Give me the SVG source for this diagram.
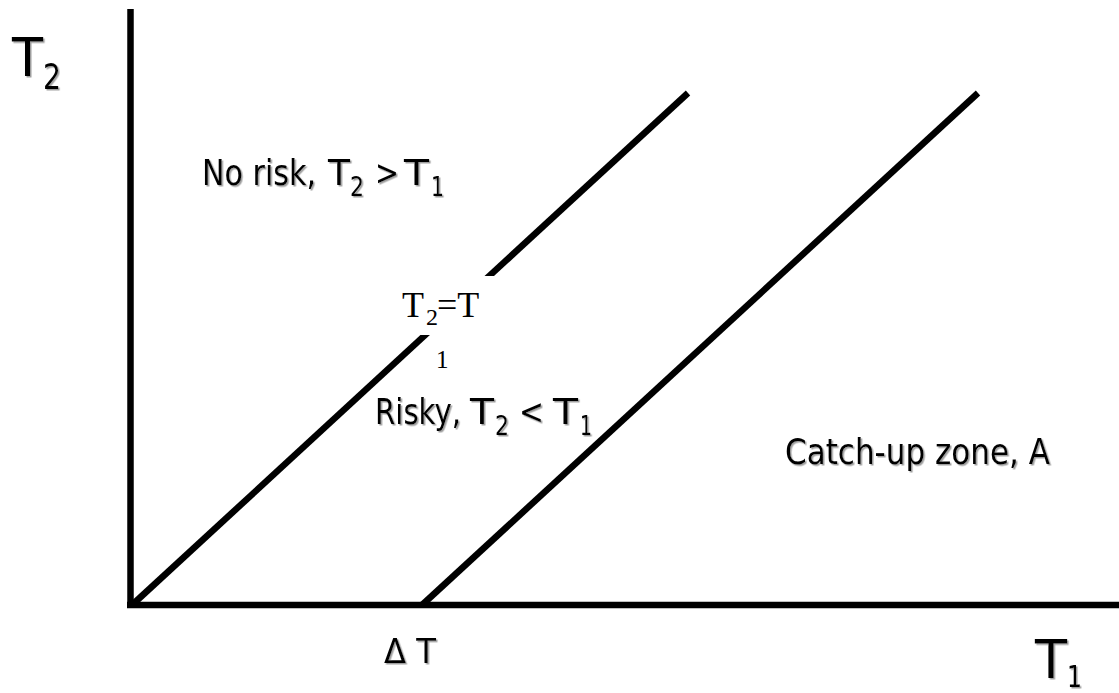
<svg xmlns="http://www.w3.org/2000/svg" width="1119" height="693" viewBox="0 0 1119 693">
<defs>
<filter id="sh" x="-10%" y="-10%" width="130%" height="140%">
<feDropShadow dx="1.5" dy="1.5" stdDeviation="0.6" flood-color="#888" flood-opacity="0.8"/>
</filter>
</defs>
<style>
.ln{stroke:#000;stroke-width:6.5;fill:none}
.lbl{font-family:"DejaVu Sans","Liberation Sans",sans-serif;fill:#000;filter:url(#sh)}
.tm{font-family:"Liberation Serif","DejaVu Serif",serif;fill:#000}
</style>
<rect width="1119" height="693" fill="#fff"/>
<g id="connectors">
<line class="ln" x1="130.5" y1="9" x2="130.5" y2="608"/>
<line class="ln" x1="127" y1="605" x2="1119" y2="605"/>
<line class="ln" x1="132" y1="605" x2="688" y2="93"/>
<line class="ln" x1="422" y1="605" x2="978" y2="93"/>
</g>
<g id="axis-t2">
<text class="lbl" x="12" y="76" font-size="53" textLength="31" lengthAdjust="spacingAndGlyphs">T</text>
<text class="lbl" x="43" y="89" font-size="35" textLength="18" lengthAdjust="spacingAndGlyphs">2</text>
</g>
<g id="axis-t1">
<text class="lbl" x="1035" y="678" font-size="53" textLength="32" lengthAdjust="spacingAndGlyphs">T</text>
<text class="lbl" x="1067" y="687" font-size="31" textLength="15" lengthAdjust="spacingAndGlyphs">1</text>
</g>
<g id="no-risk">
<text class="lbl" x="202" y="185" font-size="36" textLength="114" lengthAdjust="spacingAndGlyphs">No risk,</text>
<text class="lbl" x="328" y="185" font-size="36" textLength="22" lengthAdjust="spacingAndGlyphs">T</text>
<text class="lbl" x="350" y="196" font-size="26" textLength="14" lengthAdjust="spacingAndGlyphs">2</text>
<text class="lbl" x="375" y="185" font-size="36" textLength="24" lengthAdjust="spacingAndGlyphs">&gt;</text>
<text class="lbl" x="404" y="185" font-size="36" textLength="25" lengthAdjust="spacingAndGlyphs">T</text>
<text class="lbl" x="431" y="196" font-size="26" textLength="13" lengthAdjust="spacingAndGlyphs">1</text>
</g>
<g id="equal-line-label">
<rect x="392" y="276" width="104" height="59" fill="#fff"/>
<text class="tm" x="402" y="317" font-size="36">T</text>
<text class="tm" x="426" y="325" font-size="24">2</text>
<text class="tm" x="437" y="317" font-size="36">=T</text>
<text class="tm" x="436" y="368" font-size="25">1</text>
</g>
<g id="risky">
<text class="lbl" x="375" y="424" font-size="36" textLength="86" lengthAdjust="spacingAndGlyphs">Risky,</text>
<text class="lbl" x="470" y="424" font-size="36" textLength="24" lengthAdjust="spacingAndGlyphs">T</text>
<text class="lbl" x="495" y="435" font-size="26" textLength="14" lengthAdjust="spacingAndGlyphs">2</text>
<text class="lbl" x="519" y="424" font-size="36" textLength="25" lengthAdjust="spacingAndGlyphs">&lt;</text>
<text class="lbl" x="553" y="424" font-size="36" textLength="25" lengthAdjust="spacingAndGlyphs">T</text>
<text class="lbl" x="580" y="435" font-size="26" textLength="12" lengthAdjust="spacingAndGlyphs">1</text>
</g>
<g id="catch-up">
<text class="lbl" x="785" y="464" font-size="35" textLength="265" lengthAdjust="spacingAndGlyphs">Catch-up zone, A</text>
</g>
<g id="delta-t">
<text class="lbl" x="384" y="663" font-size="34" textLength="52" lengthAdjust="spacingAndGlyphs">Δ T</text>
</g>
</svg>
